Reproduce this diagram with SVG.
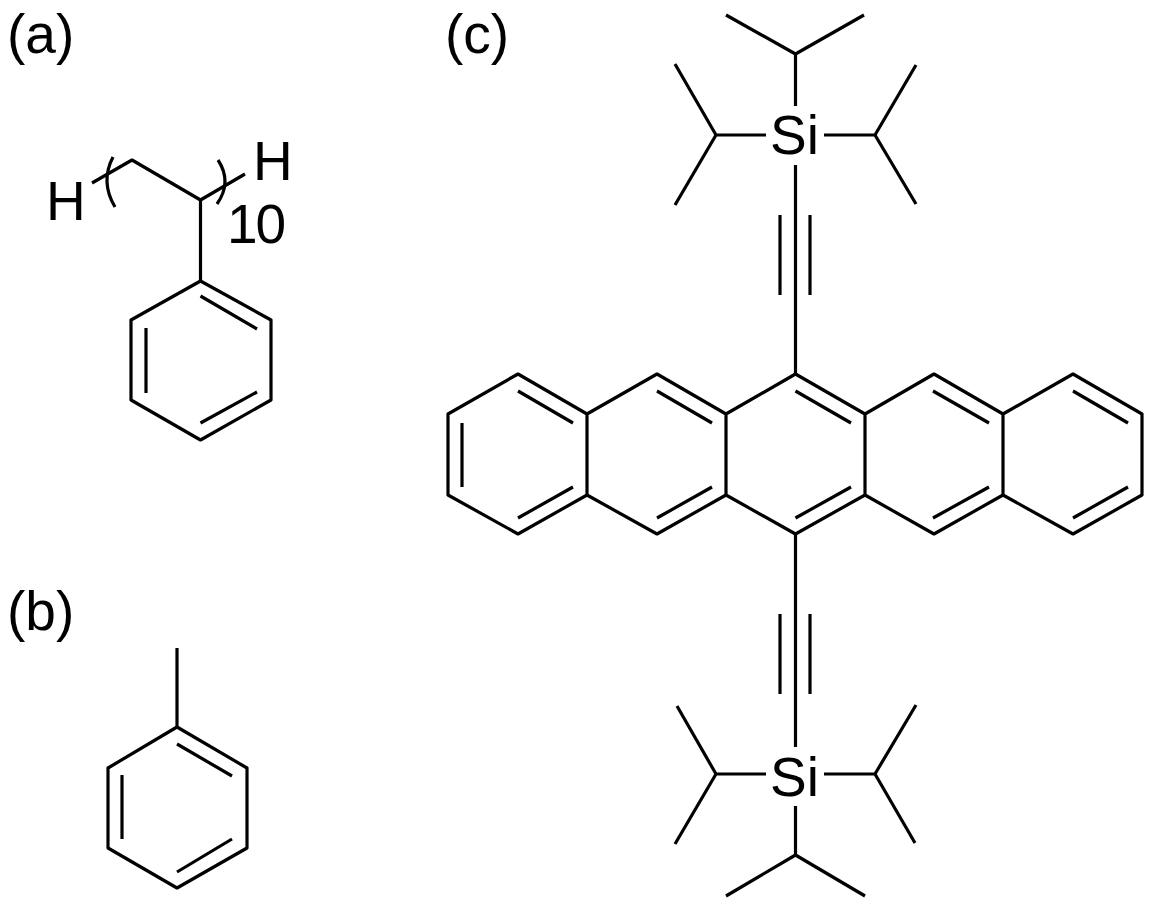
<svg xmlns="http://www.w3.org/2000/svg" width="1154" height="908" viewBox="0 0 1154 908">
<style>
.b{fill:none;stroke:#000;stroke-width:3.2;stroke-linecap:butt;stroke-linejoin:round}
text{font-family:"Liberation Sans",Arial,sans-serif;font-size:55px;fill:#000}
</style>
<rect width="1154" height="908" fill="#fff"/>
<g id="labels"><text x="7" y="53">(a)</text><text x="7" y="630">(b)</text><text x="445" y="53">(c)</text></g>
<g id="mol-a">
<path class="b" d="M200.500 281L271 320V400L200.500 440L131 400V320ZM257 329L200.500 296M257 392L200.500 423M146 393V328M200.500 281V200L132 160L92 183M200.500 200L245 174"/>
<path class="b" d="M113 157Q100 182 115 207M218 160Q232.500 182 217 204"/>
<text x="46" y="220">H</text><text x="253" y="180">H</text><text x="227" y="243" letter-spacing="-2">10</text>
</g>
<g id="mol-b">
<path class="b" d="M177 648V727M177 727L247 768V848L177 888L108 848V768ZM232 776L177 744M232 839L177 872M122 839V775"/>
</g>
<g id="mol-c">
<path class="b" d="M795.500 374L865 414V495L795.500 534L726 495V414ZM865 414L934 374L1003 414V495L934 534L865 495M1003 414L1073 374L1142 414V495L1073 534L1003 495M726 414L657 374L587 414V495L657 534L726 495M587 414L518 374L448 414V495L518 534L587 495"/>
<path class="b" d="M795.500 391L851 423M851 487L795.500 518M933 391L989 423M989 487L933 518M1073 391L1128 423M1128 487L1073 518M657 391L712 423M712 487L657 518M518 391L573 423M573 487L518 518M462 423V487"/>
<path class="b" d="M795.500 374V165M780 295V215M810 295V215M795.500 106V54L726 15M795.500 54L864 15M766 135H716L675 64M716 135L675 205M824 135H875L916 65M875 135L916 204"/>
<path class="b" d="M795.500 534V747M780 614V694M810 614V694M795.500 806V855L726 896M795.500 855L865 896M766 774H716L677 706M716 774L675 844M824 774H875L916 705M875 774L915 843"/>
<text x="770" y="154">Si</text><text x="770" y="796">Si</text>
</g>
</svg>
